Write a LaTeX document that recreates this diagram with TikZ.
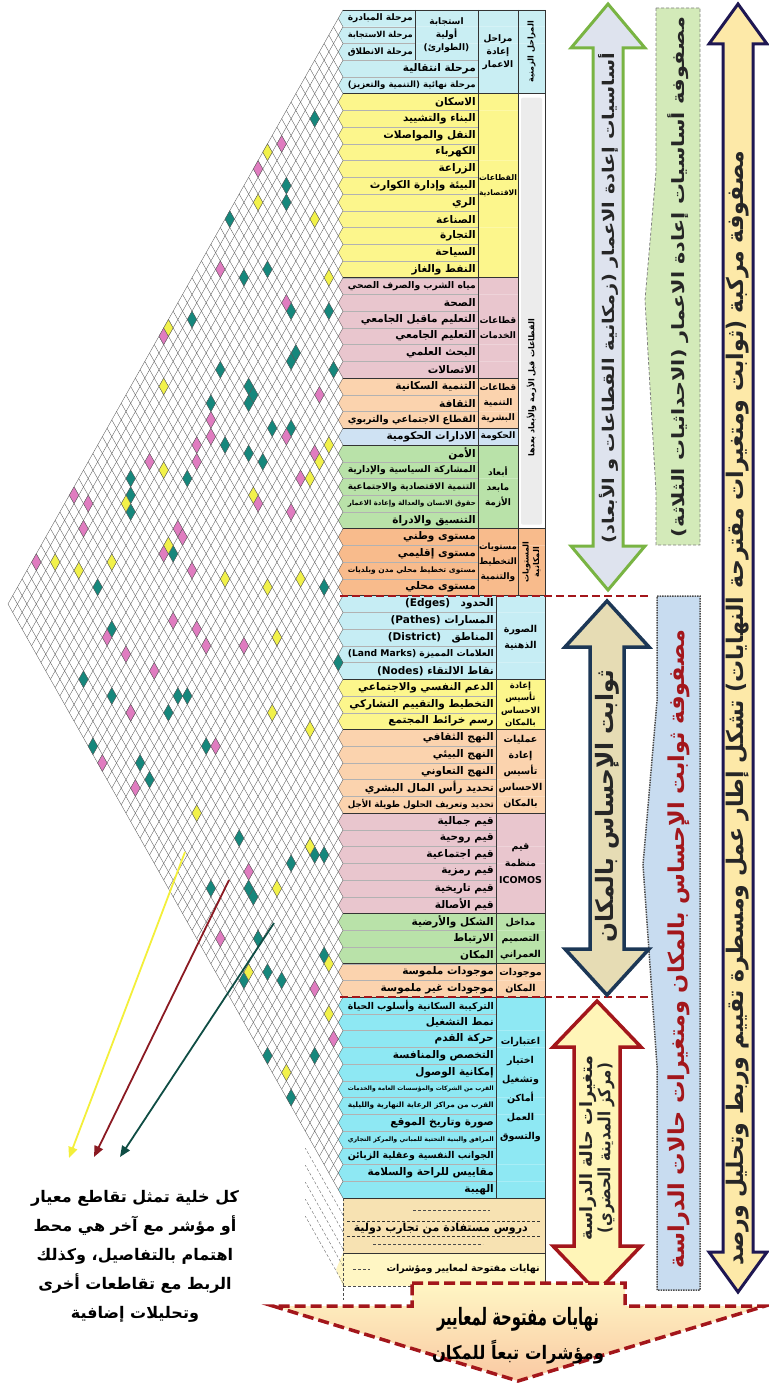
\documentclass[tikz,border=0pt]{standalone}
\usepackage{fontspec}
\usepackage{graphicx}
\usetikzlibrary{arrows.meta}
\newfontfamily\ar[Script=Arabic]{DejaVu Sans}
\TeXXeTstate=1
\newsavebox{\fitbox}
\newcommand{\rtl}[1]{\beginR#1\endR}
\newcommand{\fit}[2]{\sbox{\fitbox}{#2}\ifdim\wd\fitbox>#1\relax\resizebox{#1}{!}{\usebox{\fitbox}}\else\usebox{\fitbox}\fi}
\newcommand{\cl}[2][38pt]{\fit{#1}{\rtl{#2}}}
\definecolor{cphase}{HTML}{C9EEF3}
\definecolor{cyel}{HTML}{FCF68C}
\definecolor{cpink}{HTML}{E9C6CE}
\definecolor{cpeach}{HTML}{FBD3AE}
\definecolor{cgov}{HTML}{CFE2F3}
\definecolor{cgreen}{HTML}{B9E2A9}
\definecolor{corange}{HTML}{F8BB8C}
\definecolor{cimage}{HTML}{C6EDF4}
\definecolor{ccyan}{HTML}{8EE8F3}
\definecolor{cbeige}{HTML}{F7E2B2}
\definecolor{cpale}{HTML}{FFF6C4}
\definecolor{cellteal}{HTML}{16877C}
\definecolor{cellpink}{HTML}{E07CC0}
\definecolor{cellyel}{HTML}{F2F24A}
\definecolor{dred}{HTML}{A3161B}
\definecolor{navy}{HTML}{1E1752}
\definecolor{dblue}{HTML}{1C3756}
\definecolor{agreen}{HTML}{79B443}
\definecolor{ptteal}{HTML}{0F4D44}
\definecolor{ptred}{HTML}{8B1A22}
\definecolor{ptyel}{HTML}{F3EF3A}
\tikzset{net/.style={gray!70!black, line width=0.35pt}}
\tikzset{rowline/.style={gray!60, line width=0.4pt}}
\tikzset{rule/.style={black!80, line width=0.7pt}}
\tikzset{cell/.style={draw=gray!70!black, line width=0.35pt}}
\tikzset{item/.style={anchor=east, inner sep=0pt, font={\ar\bfseries\fontsize{10.5}{11}\selectfont}}}
\tikzset{cat/.style={align=center, inner sep=0pt, font={\ar\bfseries\fontsize{9}{13}\selectfont}}}
\tikzset{vcol/.style={rotate=90, align=center, inner sep=0pt, font={\ar\bfseries\fontsize{8}{10.5}\selectfont}}}
\tikzset{splitline/.style={dred, line width=2pt, dash pattern=on 8pt off 4pt}}
\tikzset{bigtext/.style={rotate=90, inner sep=0pt, text=black!85, font=\ar\bfseries}}
\tikzset{greenarm/.style={draw=agreen, line width=3pt, fill={rgb,255:red,222;green,227;blue,238}}}
\tikzset{navyarm/.style={draw=navy, line width=3pt, fill={rgb,255:red,253;green,233;blue,168}}}
\tikzset{bluearm/.style={draw=dblue, line width=3.5pt, fill={rgb,255:red,230;green,220;blue,180}}}
\tikzset{redarm/.style={draw=dred, line width=3.5pt, fill={rgb,255:red,255;green,245;blue,184}}}
\tikzset{greenbox/.style={draw=gray, densely dashed, line width=0.8pt, fill={rgb,255:red,211;green,234;blue,185}}}
\tikzset{bluebox/.style={draw=black!70, densely dotted, line width=1.5pt, fill={rgb,255:red,200;green,220;blue,240}}}
\tikzset{endarrow/.style={draw=dred, line width=3.5pt, dash pattern=on 11pt off 5pt, top color=cpale, bottom color=corange!80}}
\tikzset{note/.style={align=center, inner sep=0pt, font={\ar\bfseries\fontsize{16}{29}\selectfont}}}
\tikzset{pointer/.style={line width=1.8pt, -{Triangle[length=11pt,width=9pt]}}}
\newcommand{\rows}[4]{%
  \foreach \lab [count=\rr from #1] in {#4}{%
    \pgfmathsetmacro{\tw}{#3-348}
    \fill[#2] (\xL,{\yT+\rr*\rh}) -- ++({-\cw/2},{\rh/2}) -- ++({\cw/2},{\rh/2}) -| (545,{\yT+\rr*\rh}) -- cycle;
    \draw[rowline] (\xL,{\yT+\rr*\rh}) -- ({#3+2},{\yT+\rr*\rh});
    \node[item] (row\rr) at (#3,{\yT+(\rr+.5)*\rh}) {\fit{\tw pt}{\rtl{\lab}}};
  }}
\newcommand{\dbl}[6]{({#1-#4},{#2+#6}) -- ({#1-#5},{#2+#6}) -- (#1,#2) -- ({#1+#5},{#2+#6}) -- ({#1+#4},{#2+#6}) -- ({#1+#4},{#3-#6}) -- ({#1+#5},{#3-#6}) -- (#1,#3) -- ({#1-#5},{#3-#6}) -- ({#1-#4},{#3-#6}) -- cycle}
\begin{document}
\begin{tikzpicture}[x=1pt,y=-1pt]
\def\xL{343}
\def\yT{10}
\def\rh{16.732}
\def\cw{9.437}
\useasboundingbox (0,0) rectangle (768,1383);

\rows{0}{cphase}{413}{مرحلة المبادرة, مرحلة الاستجابة, مرحلة الانطلاق}
\rows{3}{cphase}{476}{مرحلة انتقالية, مرحلة نهائية (التنمية والتعزيز)}
\rows{5}{cyel}{476}{الاسكان, البناء والتشييد, النقل والمواصلات, الكهرباء, الزراعة, البيئة وإدارة الكوارث, الري, الصناعة, التجارة, السياحة, النفط والغاز}
\rows{16}{cpink}{476}{مياه الشرب والصرف الصحي, الصحة, التعليم ماقبل الجامعي, التعليم الجامعي, البحث العلمي, الاتصالات}
\rows{22}{cpeach}{476}{التنمية السكانية, الثقافة, القطاع الاجتماعي والتربوي}
\rows{25}{cgov}{476}{الادارات الحكومية}
\rows{26}{cgreen}{476}{الأمن, المشاركة السياسية والإدارية, التنمية الاقتصادية والاجتماعية, حقوق الانسان والعدالة وإعادة الاعمار, التنسيق والادراة}
\rows{31}{corange}{476}{مستوى وطني, مستوى إقليمي, مستوى تخطيط محلي مدن وبلديات, مستوى محلي}
\rows{35}{cimage}{494}{الحدود\quad\beginL(Edges)\endL, المسارات \beginL(Pathes)\endL, المناطق\quad\beginL(District)\endL, العلامات المميزة \beginL(Land Marks)\endL, نقاط الالتقاء \beginL(Nodes)\endL}
\rows{40}{cyel}{494}{الدعم النفسي والاجتماعي, التخطيط والتقييم التشاركي, رسم خرائط المجتمع}
\rows{43}{cpeach}{494}{النهج الثقافي, النهج البيئي, النهج التعاوني, تحديد رأس المال البشري, تحديد وتعريف الحلول طويلة الأجل}
\rows{48}{cpink}{494}{قيم جمالية, قيم روحية, قيم اجتماعية, قيم رمزية, قيم تاريخية, قيم الأصالة}
\rows{54}{cgreen}{494}{الشكل والأرضية, الارتباط, المكان}
\rows{57}{cpeach}{494}{موجودات ملموسة, موجودات غير ملموسة}
\rows{59}{ccyan}{494}{التركيبة السكانية وأسلوب الحياة, نمط التشغيل, حركة القدم, التخصص والمنافسة, إمكانية الوصول, القرب من الشركات والمؤسسات العامة والخدمات, القرب من مراكز الرعاية النهارية والليلية, صورة وتاريخ الموقع, المرافق والبنية التحتية للمباني والمركز التجاري, الجوانب النفسية وعقلية الزبائن, مقاييس للراحة والسلامة, الهيبة}
\fill[cbeige] (\xL,1198) rectangle (545,1253);
\fill[cpale] (\xL,1253) -- (336,1269.5) -- (\xL,1286) -- (545,1286) -- (545,1253) -- cycle;

\foreach \rr in {0,...,71}{
  \draw[net] (\xL,{\yT+\rr*\rh}) -- ++({-\rr*\cw/2},{-\rr*\rh/2});
  \draw[net] (\xL,{\yT+\rr*\rh}) -- ++({-(71-\rr)*\cw/2},{(71-\rr)*\rh/2});
}
\foreach \yy in {1215,1232,1249,1266,1283}
  \draw[net, densely dashed] (\xL,\yy) -- ++({-8*\cw/2},{-8*\rh/2});
\pgfmathsetseed{4242}
\foreach \clr/\nn in {cellteal/58,cellpink/42,cellyel/30}{
  \foreach \m in {1,...,\nn}{
    \pgfmathtruncatemacro{\pa}{random(0,70)}
    \pgfmathtruncatemacro{\pb}{random(0,70)}
    \pgfmathtruncatemacro{\lo}{min(\pa,\pb)}
    \pgfmathtruncatemacro{\hi}{max(\pa,\pb)}
    \ifnum\lo<\hi
      \filldraw[cell, fill=\clr] ({\xL-(\hi-\lo+1)*\cw/2},{\yT+(\lo+\hi+1)*\rh/2}) -- ++({\cw/2},{-\rh/2}) -- ++({\cw/2},{\rh/2}) -- ++({-\cw/2},{\rh/2}) -- cycle;
    \fi
  }}

\fill[white] (518,{\yT+5*\rh}) rectangle (545,{\yT+31*\rh});
\fill[gray!15, rounded corners=2pt] (521,{\yT+5*\rh+4}) rectangle (542,{\yT+31*\rh-4});
\foreach \rr in {0,5,31,35,40,43,48,54,57,59,71}
  \draw[rule] (\xL,{\yT+\rr*\rh}) -- (545,{\yT+\rr*\rh});
\foreach \rr in {16,22,25,26}
  \draw[rule] (\xL,{\yT+\rr*\rh}) -- (518,{\yT+\rr*\rh});
\draw[rule] (415,\yT) -- (415,{\yT+3*\rh});
\draw[rule] (478,\yT) -- (478,{\yT+35*\rh});
\draw[rule] (518,\yT) -- (518,{\yT+35*\rh});
\draw[rule] (496,{\yT+35*\rh}) -- (496,{\yT+71*\rh});
\draw[rule] (545,\yT) -- (545,1286);
\draw[rule] (\xL,1253) -- (545,1253);
\draw[densely dashed, gray!60!black] (413,1210) -- (490,1210);
\draw[densely dashed, black!80] (347,1221) -- (541,1221);
\draw[densely dashed, black!80] (347,1236) -- (541,1236);
\draw[densely dashed, gray!60!black] (373,1244) -- (483,1244);
\draw[densely dashed, gray!60!black] (353,1269.5) -- (370,1269.5);
\draw[densely dashed, gray!60!black] (\xL,1198) -- (\xL,1300);
\draw[densely dashed, gray!60!black] (\xL,1286) -- (412,1286);
\node[item, font={\ar\bfseries\fontsize{11}{12}\selectfont}] (lessons) at (528,1228.5) {\rtl{دروس مستفادة من تجارب دولية}};
\node[item, font={\ar\bfseries\fontsize{9.5}{10}\selectfont}] (openrow) at (540,1269.5) {\rtl{نهايات مفتوحة لمعايير ومؤشرات}};

\node[cat] (first) at (446.5,{\yT+1.5*\rh}) {\cl[58pt]{استجابة}\\\cl[58pt]{أولية}\\\cl[58pt]{(الطوارئ)}};
\node[cat] (stages) at (498,{\yT+2.5*\rh}) {\cl{مراحل}\\\cl{إعادة}\\\cl{الاعمار}};
\node[cat, font={\ar\bfseries\fontsize{9}{15}\selectfont}] (econ) at (498,{\yT+10.5*\rh}) {\cl{القطاعات}\\\cl{الاقتصادية}};
\node[cat, font={\ar\bfseries\fontsize{9}{15}\selectfont}] (serv) at (498,{\yT+19*\rh}) {\cl{قطاعات}\\\cl{الخدمات}};
\node[cat, font={\ar\bfseries\fontsize{9}{15}\selectfont}] (human) at (498,{\yT+23.5*\rh}) {\cl{قطاعات}\\\cl{التنمية}\\\cl{البشرية}};
\node[cat] (gov) at (498,{\yT+25.5*\rh}) {\cl{الحكومة}};
\node[cat, font={\ar\bfseries\fontsize{9}{15}\selectfont}] (post) at (498,{\yT+28.5*\rh}) {\cl{أبعاد}\\\cl{مابعد}\\\cl{الأزمة}};
\node[cat, font={\ar\bfseries\fontsize{9}{15}\selectfont}] (plan) at (498,{\yT+33*\rh}) {\cl{مستويات}\\\cl{التخطيط}\\\cl{والتنمية}};
\node[vcol] (time) at (531.5,{\yT+2.5*\rh}) {\fit{78pt}{\rtl{المراحل الزمنية}}};
\node[vcol] (sectors) at (531.5,388) {\fit{265pt}{\rtl{القطاعات قبل الأزمة والأبعاد بعدها}}};
\node[vcol] (levels) at (531.5,{\yT+33*\rh}) {\cl[62pt]{المستويات}\\\cl[62pt]{المكانية}};
\node[cat, font={\ar\bfseries\fontsize{9.5}{16}\selectfont}] (image) at (520.5,{\yT+37.5*\rh}) {\cl[45pt]{الصورة}\\\cl[45pt]{الذهنية}};
\node[cat, font={\ar\bfseries\fontsize{8.5}{12.5}\selectfont}] (reest) at (520.5,{\yT+41.5*\rh}) {\cl[45pt]{إعادة}\\\cl[45pt]{تأسيس}\\\cl[45pt]{الاحساس}\\\cl[45pt]{بالمكان}};
\node[cat, font={\ar\bfseries\fontsize{9.5}{16}\selectfont}] (proc) at (520.5,{\yT+45.5*\rh}) {\cl[45pt]{عمليات}\\\cl[45pt]{إعادة}\\\cl[45pt]{تأسيس}\\\cl[45pt]{الاحساس}\\\cl[45pt]{بالمكان}};
\node[cat, font={\ar\bfseries\fontsize{9.5}{17}\selectfont}] (icomos) at (520.5,{\yT+51*\rh}) {\cl[45pt]{قيم}\\\cl[45pt]{منظمة}\\\cl[45pt]{ICOMOS}};
\node[cat, font={\ar\bfseries\fontsize{9.5}{16}\selectfont}] (design) at (520.5,{\yT+55.5*\rh}) {\cl[45pt]{مداخل}\\\cl[45pt]{التصميم}\\\cl[45pt]{العمراني}};
\node[cat, font={\ar\bfseries\fontsize{9.5}{16}\selectfont}] (assets) at (520.5,{\yT+58*\rh}) {\cl[45pt]{موجودات}\\\cl[45pt]{المكان}};
\node[cat, font={\ar\bfseries\fontsize{9.5}{19}\selectfont}] (work) at (520.5,{\yT+64.5*\rh}) {\cl[45pt]{اعتبارات}\\\cl[45pt]{اختيار}\\\cl[45pt]{وتشغيل}\\\cl[45pt]{أماكن}\\\cl[45pt]{العمل}\\\cl[45pt]{والتسوق}};

\draw[splitline] (340,{\yT+35*\rh}) -- (650,{\yT+35*\rh});
\draw[splitline] (340,{\yT+59*\rh}) -- (650,{\yT+59*\rh});

\draw[greenbox] (656,8) -- (700,8) -- (700,545) -- (656,545) -- (656,492) -- (645,300) -- (656,172) -- cycle;
\draw[bluebox] (657,596) -- (700,596) -- (700,1290) -- (657,1290) -- (657,1066) -- (643,865) -- (657,701) -- cycle;
\draw[greenarm] \dbl{608}{4}{590}{15}{37}{44};
\draw[bluearm] \dbl{607}{601}{995}{17}{42}{46};
\draw[redarm] \dbl{597}{1001}{1292}{23}{44}{46};
\draw[navyarm] \dbl{738}{4}{1292}{15}{29}{40};
\node[bigtext] (basics) at (608,298) {\resizebox*{490pt}{20pt}{\rtl{أساسيات إعادة الاعمار (زمكانية القطاعات و الأبعاد)}}};
\node[bigtext] (coords) at (678,277) {\resizebox*{520pt}{21pt}{\rtl{مصفوفة أساسيات إعادة الاعمار (الاحداثيات الثلاثة)}}};
\node[bigtext] (frame) at (738,708) {\resizebox*{1115pt}{23pt}{\rtl{مصفوفة مركبة (ثوابت ومتغيرات مقترحة النهايات) تشكل إطار عمل ومسطرة تقييم وربط وتحليل ورصد}}};
\node[bigtext] (fixed) at (607,806) {\resizebox*{272pt}{24pt}{\rtl{ثوابت الإحساس بالمكان}}};
\node[bigtext, text=dred] (matrix) at (679,949) {\resizebox*{638pt}{22pt}{\rtl{مصفوفة ثوابت الإحساس بالمكان ومتغيرات حالات الدراسة}}};
\node[bigtext, align=center] (vars) at (597,1148) {\resizebox*{185pt}{17pt}{\rtl{متغيرات حالة الدراسة}}\\\resizebox*{170pt}{17pt}{\rtl{(مركز المدينة الحضري)}}};

\draw[endarrow] (412,1283) -- (625,1283) -- (625,1306) -- (765,1306) -- (518,1381) -- (273,1306) -- (412,1306) -- cycle;
\node[align=center, inner sep=0pt, font={\ar\bfseries\fontsize{17}{34}\selectfont}] (ends) at (518,1336) {\resizebox*{162pt}{24pt}{\rtl{نهايات مفتوحة لمعايير}}\\\resizebox*{172pt}{24pt}{\rtl{ومؤشرات تبعاً للمكان}}};

\node[note] (note) at (135,1256) {\rtl{كل خلية تمثل تقاطع معيار}\\\rtl{أو مؤشر مع آخر هي محط}\\\rtl{اهتمام بالتفاصيل، وكذلك}\\\rtl{الربط مع تقاطعات أخرى}\\\rtl{وتحليلات إضافية}};
\coordinate (hitY) at (185,852);
\coordinate (hitR) at (229,880);
\coordinate (hitG) at (274,923);
\coordinate (endY) at (69,1158);
\coordinate (endR) at (94,1157);
\coordinate (endG) at (120,1157);
\draw[pointer, ptyel] (hitY) -- (endY);
\draw[pointer, ptred] (hitR) -- (endR);
\draw[pointer, ptteal] (hitG) -- (endG);

\end{tikzpicture}
\end{document}
